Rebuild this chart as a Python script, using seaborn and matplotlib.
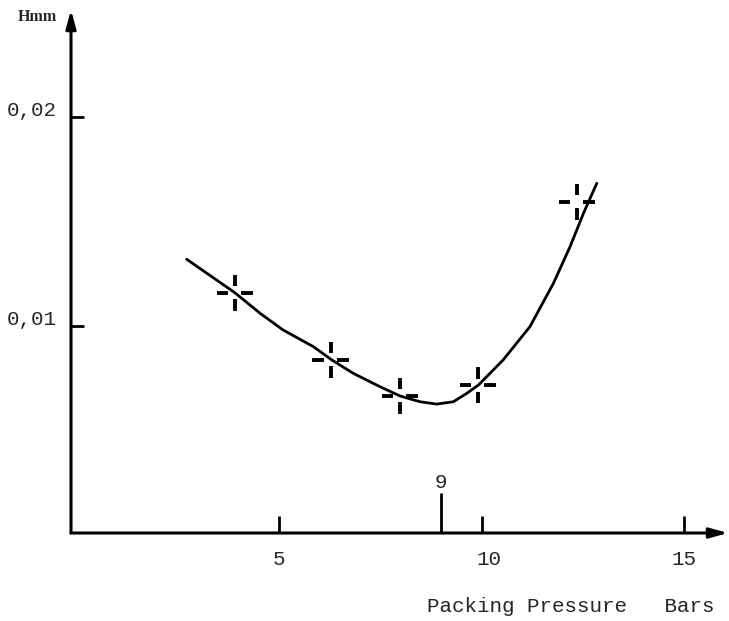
import matplotlib
matplotlib.use("Agg")
import matplotlib.pyplot as plt
from matplotlib.path import Path
from matplotlib.transforms import ScaledTranslation
import pandas as pd
import seaborn as sns

# Measured points (packing pressure in bars, height in mm)
pressure_measured = [3.91, 6.27, 7.98, 9.90, 12.35]
height_measured = [0.01159, 0.00838, 0.00666, 0.00718, 0.01594]

# Hand-drawn fitted curve through the measurements
curve_pressure = [2.72, 3.91, 4.53, 5.10, 5.85, 6.30, 6.83, 7.49, 7.98, 8.48,
                  8.89, 9.30, 9.63, 9.92, 10.53, 11.19, 11.77, 12.18, 12.51, 12.84]
curve_height = [0.01319, 0.01159, 0.01061, 0.00981, 0.00901, 0.00838, 0.00774,
                0.00710, 0.00666, 0.00638, 0.00627, 0.00638, 0.00678, 0.00718,
                0.00838, 0.00997, 0.01204, 0.01379, 0.01538, 0.01682]

x_ticks = [5, 10, 15]
x_tick_labels = ["5", "10", "15"]
y_ticks = [0.01, 0.02]
y_tick_labels = ["0,01", "0,02"]
optimum_pressure = 9

sns.set_theme(style="white")
plt.rcParams["font.family"] = ["Liberation Mono", "DejaVu Sans"]

W, H = 729, 621
fig = plt.figure(figsize=(W / 100, H / 100), dpi=100)
ax = fig.add_axes([71 / W, (H - 533) / H, (728 - 71) / W, (533 - 10) / H])

x_per_px = 1 / 40.53
y_per_px = 1 / 20930
ax.set_xlim((71 - 76.4) * x_per_px, (728 - 76.4) * x_per_px)
ax.set_ylim((535.3 - 533) * y_per_px, (535.3 - 10) * y_per_px)

curve = pd.DataFrame({"p": curve_pressure, "h": curve_height})
sns.lineplot(data=curve, x="p", y="h", sort=False, color="black", lw=2.0, ax=ax)

# Broken-cross marker: four short dashes around the measured point
g, e = 0.36, 1.0
verts = [(-e, 0), (-g, 0), (g, 0), (e, 0), (0, g), (0, e), (0, -g), (0, -e)]
codes = [Path.MOVETO, Path.LINETO] * 4
cross = Path(verts, codes)
meas = pd.DataFrame({"p": pressure_measured, "h": height_measured})
sns.scatterplot(data=meas, x="p", y="h", marker=cross, s=26 ** 2,
                facecolor="none", edgecolor="black", linewidth=2.8, ax=ax, zorder=4)

for s in ax.spines.values():
    s.set_visible(False)
ax.grid(False)
ax.set_xlabel("")
ax.set_ylabel("")

# Axis lines with arrow heads
arrow = dict(arrowstyle="-|>,head_length=0.9,head_width=0.25", lw=2.2,
             color="black", shrinkA=0, shrinkB=0)
ax.annotate("", xy=(1, 0), xytext=(0, 0), xycoords="axes fraction",
            arrowprops=arrow, annotation_clip=False)
ax.annotate("", xy=(0, 1), xytext=(0, 0), xycoords="axes fraction",
            arrowprops=arrow, annotation_clip=False)

ax.set_xticks(x_ticks)
ax.set_xticklabels(x_tick_labels)
ax.set_yticks(y_ticks)
ax.set_yticklabels(y_tick_labels)
ax.tick_params(axis="x", direction="in", length=12, width=2, color="black",
               pad=12, labelsize=15, bottom=True)
ax.tick_params(axis="y", direction="in", length=9, width=2, color="black",
               pad=10, labelsize=15, left=True)

# Typed labels sit a little above their y ticks
for lbl in ax.get_yticklabels():
    lbl.set_transform(lbl.get_transform() + ScaledTranslation(0, 8 / 100, fig.dpi_scale_trans))
# and the "10" label is typed slightly right of its tick
ax.get_xticklabels()[1].set_transform(
    ax.get_xticklabels()[1].get_transform() + ScaledTranslation(7 / 100, 0, fig.dpi_scale_trans))

# Marked optimum pressure
ax.vlines(optimum_pressure, ax.get_ylim()[0], ax.get_ylim()[0] + 40 * y_per_px,
          color="black", lw=2)
ax.text(optimum_pressure, ax.get_ylim()[0] + 51 * y_per_px, str(optimum_pressure),
        ha="center", va="center", fontsize=15)

fig.text(57 / W, 1 - 17 / H, "Hmm", ha="right", va="center", fontsize=11.5,
         fontweight="bold", family="Liberation Serif")
fig.text(427 / W, 1 - 607 / H, "Packing Pressure   Bars", ha="left",
         va="center", fontsize=15)

fig.savefig("out.png", dpi=100)
